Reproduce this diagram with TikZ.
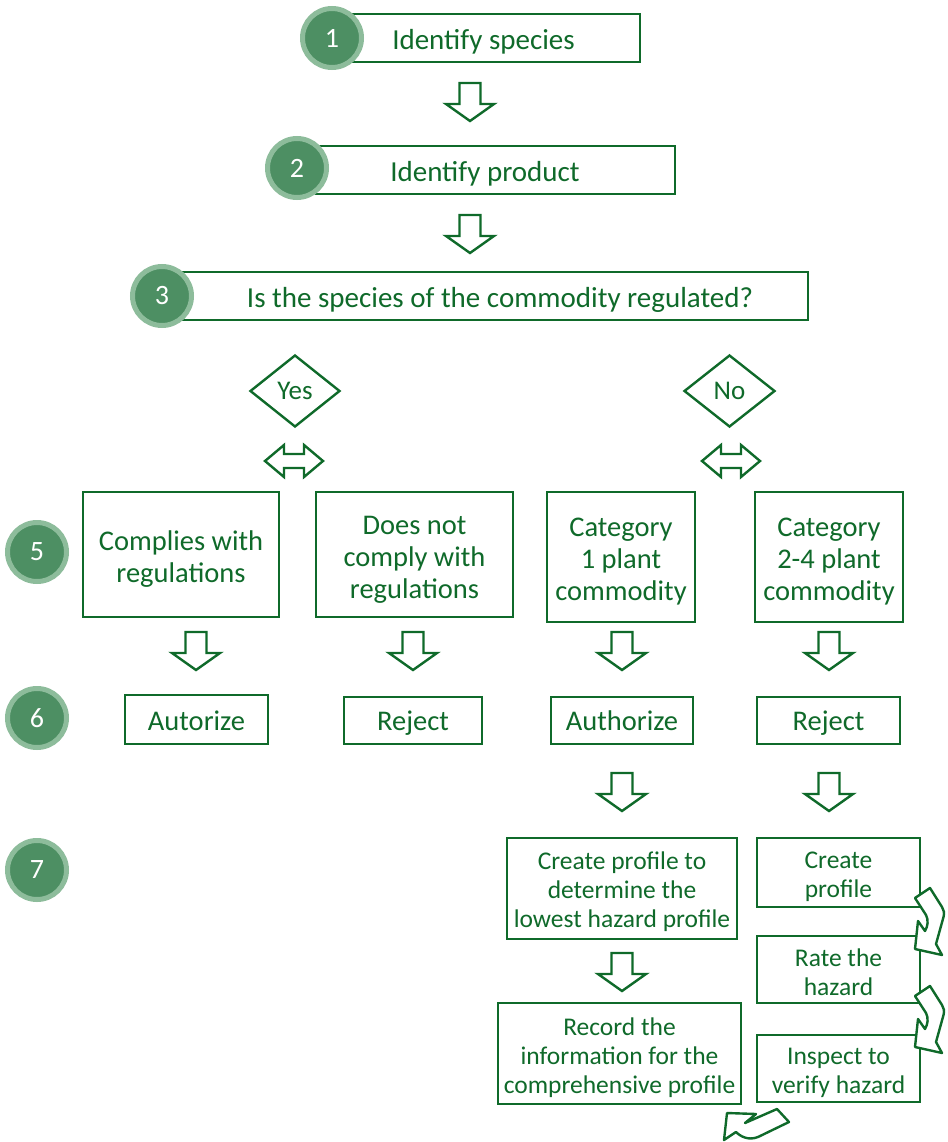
\documentclass[tikz,border=0pt]{standalone}
\usepackage{fontspec}
\setmainfont{Carlito}
\usetikzlibrary{shapes.geometric}
\definecolor{gr}{HTML}{0F6A2A}
\definecolor{cdark}{HTML}{4D8F63}
\definecolor{cring}{HTML}{8DBC9B}
\tikzset{
 box/.style={draw=gr, line width=2.4pt, inner sep=0pt, fill=white},
 txt/.style={text=gr, align=center, inner sep=0pt},
 big/.style={txt, font=\fontsize{28.5}{32}\selectfont},
 small/.style={txt, font=\fontsize{25.5}{29}\selectfont},
 toptxt/.style={txt, font=\fontsize{29}{32}\selectfont},
 num/.style={circle, fill=cdark, draw=cring, line width=5pt, minimum size=59pt, inner sep=0pt, text=white, font=\fontsize{28}{30}\selectfont},
 arr/.style={draw=gr, line width=2.4pt, fill=white, line join=miter},
 dia/.style={diamond, draw=gr, line width=2.4pt, text=gr, inner sep=0pt, font=\fontsize{27}{30}\selectfont},
 downarr/.pic={\draw[arr] (-10.5,0) -- (10.5,0) -- (10.5,21) -- (24,21) -- (0,38) -- (-24,21) -- (-10.5,21) -- cycle;},
 dblarr/.pic={\draw[arr] (-29,0) -- (-10,-16) -- (-10,-7) -- (10,-7) -- (10,-16) -- (29,0) -- (10,16) -- (10,7) -- (-10,7) -- (-10,16) -- cycle;},
 bendarr/.pic={\draw[arr, line join=round] (0,0) -- (15,-10) -- (27,9) .. controls (29,12) and (29.5,15) .. (28.5,19) -- (21,46) -- (27,57) -- (0,51) -- (3,23) -- (10,33) .. controls (13,28) and (13.5,22) .. (11,17) -- cycle;},
}
\begin{document}
\begin{tikzpicture}[x=1pt,y=-1pt]
\useasboundingbox (0,0) rectangle (947,1142);

% top boxes
\node[box, minimum width=297pt, minimum height=48pt] (b1) at (491.5,38) {};
\node[toptxt] (t1) at (483.5,42) {Identify species};
\node[num] (n1) at (332,38) {1};
\pic at (470,83) {downarr};

\node[box, minimum width=359pt, minimum height=48pt] (b2) at (495.5,170) {};
\node[toptxt] (t2) at (485,174) {Identify product};
\node[num] (n2) at (297,168) {2};
\pic at (470,215) {downarr};

\node[box, minimum width=628pt, minimum height=48pt] (b3) at (494,296) {};
\node[toptxt] (t3) at (500,300) {Is the species of the commodity regulated?};
\node[num] (n3) at (162,296) {3};

% decisions
\node[dia, minimum width=90pt, minimum height=72pt] (yes) at (295,391) {Yes};
\node[dia, minimum width=91pt, minimum height=72pt] (no) at (729.5,391) {No};
\pic at (294,461) {dblarr};
\pic at (731,461) {dblarr};

% level 5
\node[num] (n5) at (37,552) {5};
\node[box, minimum width=196pt, minimum height=125pt] (c1) at (181,554.5) {};
\node[big] (tc1) at (181,559.5) {Complies with\\regulations};
\node[box, minimum width=197pt, minimum height=125pt] (c2) at (414.5,554.5) {};
\node[big] (tc2) at (414.5,559.5) {Does not\\comply with\\regulations};
\node[box, minimum width=148pt, minimum height=130pt] (c3) at (621,557) {};
\node[big] (tc3) at (621,562) {Category\\1 plant\\commodity};
\node[box, minimum width=148pt, minimum height=130pt] (c4) at (829,557) {};
\node[big] (tc4) at (829,562) {Category\\2-4 plant\\commodity};

\pic at (196,632) {downarr};
\pic at (413,632) {downarr};
\pic at (622,632) {downarr};
\pic at (829,632) {downarr};

% level 6
\node[num] (n6) at (37,718) {6};
\node[box, minimum width=143pt, minimum height=49pt] (d1) at (196.5,719.5) {};
\node[big, text height=20pt, text depth=6pt] (td1) at (196.5,723.5) {Autorize};
\node[box, minimum width=138pt, minimum height=47pt] (d2) at (413,720.5) {};
\node[big, text height=20pt, text depth=6pt] (td2) at (413,723.5) {Reject};
\node[box, minimum width=142pt, minimum height=47pt] (d3) at (622,720.5) {};
\node[big, text height=20pt, text depth=6pt] (td3) at (622,723.5) {Authorize};
\node[box, minimum width=143pt, minimum height=47pt] (d4) at (828.5,720.5) {};
\node[big, text height=20pt, text depth=6pt] (td4) at (828.5,723.5) {Reject};

\pic at (622,773) {downarr};
\pic at (829,773) {downarr};

% level 7
\node[num] (n7) at (37,870) {7};
\node[box, minimum width=230pt, minimum height=101pt] (e1) at (622,888.5) {};
\node[small] (te1) at (622,891.5) {Create profile to\\determine the\\lowest hazard profile};
\pic at (622,953) {downarr};
\node[box, minimum width=243pt, minimum height=101pt] (e2) at (619.5,1053.5) {};
\node[small] (te2) at (619.5,1057.5) {Record the\\information for the\\comprehensive profile};

\node[box, minimum width=163pt, minimum height=69pt] (f1) at (838.5,872.5) {};
\node[small] (tf1) at (838.5,876.5) {Create\\profile};
\node[box, minimum width=163pt, minimum height=67pt] (f2) at (838.5,969.5) {};
\node[small] (tf2) at (838.5,972.5) {Rate the\\hazard};
\node[box, minimum width=163pt, minimum height=67pt] (f3) at (838.5,1068.5) {};
\node[small] (tf3) at (838.5,1072.5) {Inspect to\\verify hazard};

\pic at (915,898) {bendarr};
\pic at (915,996) {bendarr};

\draw[arr, line join=round] (727,1113) -- (756,1114) -- (745,1123) -- (777,1109) -- (789,1122) -- (758,1137) .. controls (748,1141) and (740,1136) .. (736,1132) -- (724,1140) -- cycle;
\end{tikzpicture}
\end{document}
